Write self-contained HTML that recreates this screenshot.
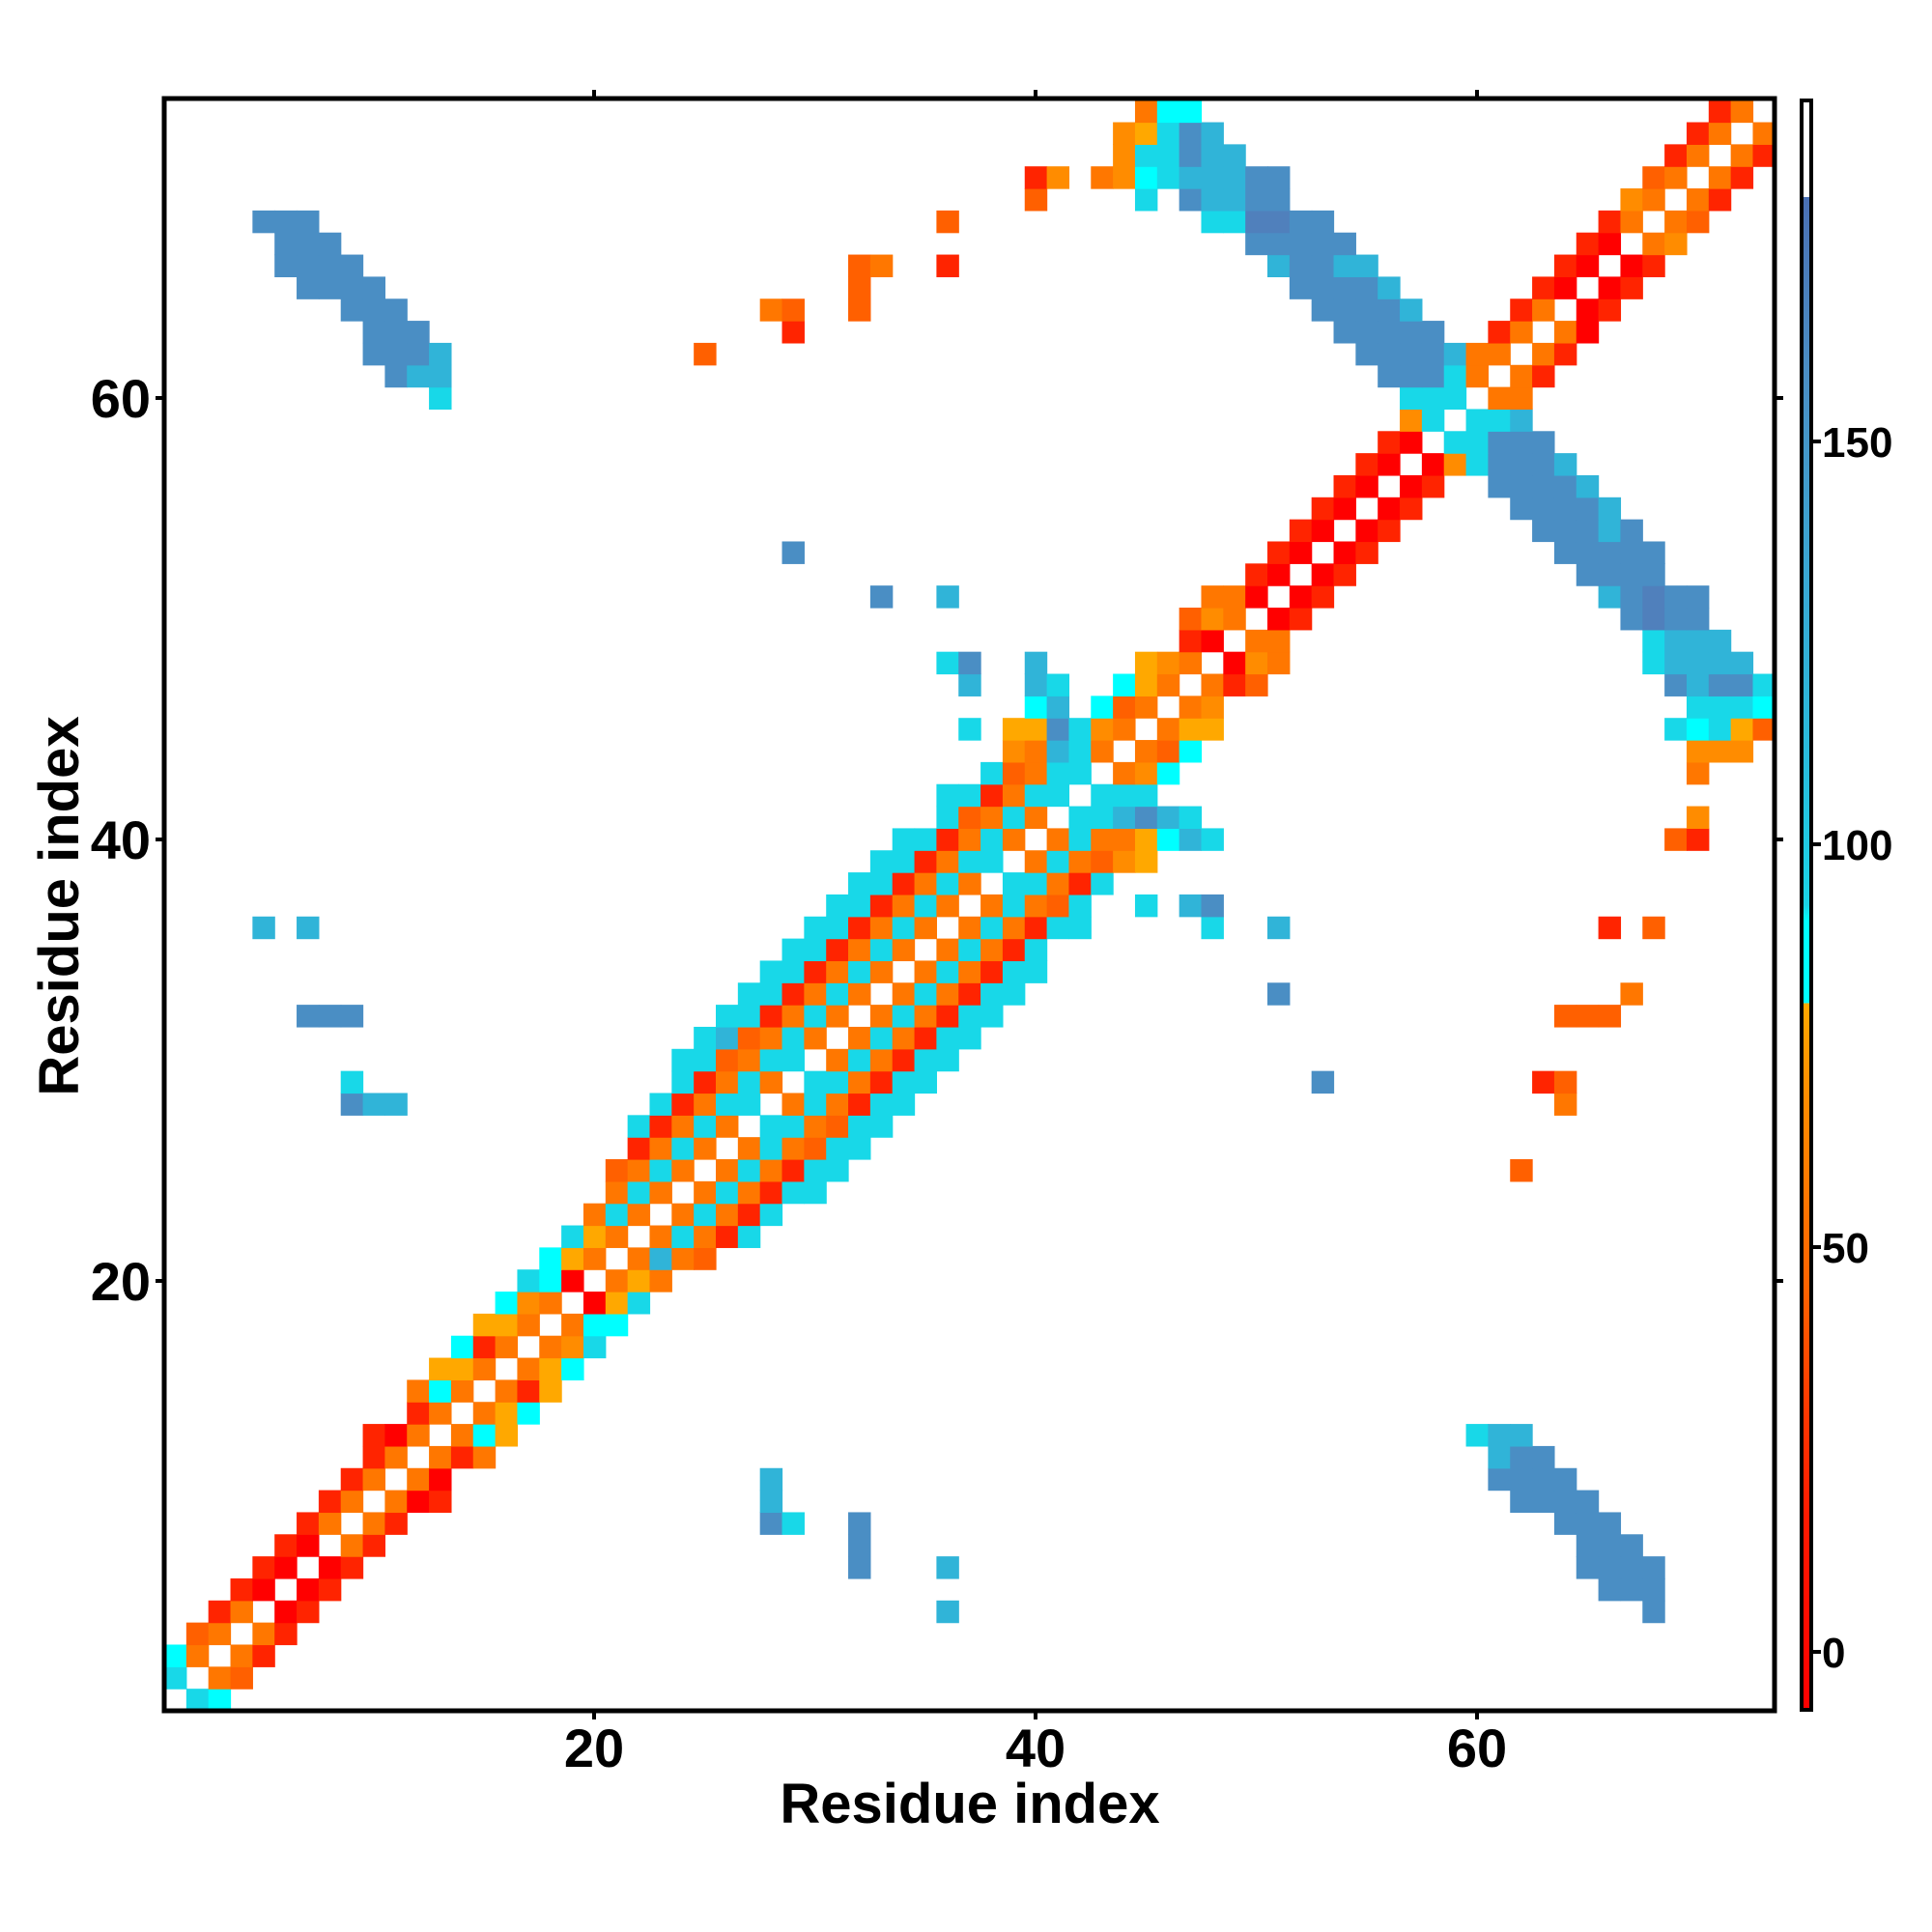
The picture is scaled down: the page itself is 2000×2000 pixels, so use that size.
<!DOCTYPE html>
<html><head><meta charset="utf-8">
<style>
html,body{margin:0;padding:0;background:#fff;width:2000px;height:2000px;overflow:hidden}
svg text{font-family:"Liberation Sans",Arial,sans-serif;font-weight:bold;fill:#000}
</style></head>
<body>
<svg id="s" width="2000" height="2000" viewBox="0 0 2000 2000" xmlns="http://www.w3.org/2000/svg">
<defs>
<linearGradient id="cb" x1="0" y1="0" x2="0" y2="1">
<stop offset="0" stop-color="#ffffff"/><stop offset="0.06" stop-color="#ffffff"/>
<stop offset="0.06" stop-color="#4a70b4"/><stop offset="0.17" stop-color="#4a8ec4"/>
<stop offset="0.29" stop-color="#3aa6d2"/><stop offset="0.41" stop-color="#28bcdc"/>
<stop offset="0.50" stop-color="#1ad4e6"/><stop offset="0.51" stop-color="#00ffff"/>
<stop offset="0.561" stop-color="#00ffff"/><stop offset="0.561" stop-color="#ffa800"/>
<stop offset="0.62" stop-color="#ff8c00"/><stop offset="0.68" stop-color="#ff7700"/>
<stop offset="0.74" stop-color="#ff6200"/><stop offset="0.81" stop-color="#ff3a00"/>
<stop offset="0.88" stop-color="#ff1a00"/><stop offset="1" stop-color="#ff0000"/>
</linearGradient>
</defs>
<g id="cells"></g>
<rect x="170" y="102" width="1667" height="1669" fill="none" stroke="#000" stroke-width="5"/>
<g stroke="#000" stroke-width="4">
<line x1="161" y1="412" x2="170" y2="412"/><line x1="161" y1="869" x2="170" y2="869"/><line x1="161" y1="1326" x2="170" y2="1326"/>
<line x1="1837" y1="412" x2="1846" y2="412"/><line x1="1837" y1="869" x2="1846" y2="869"/><line x1="1837" y1="1326" x2="1846" y2="1326"/>
<line x1="615" y1="93" x2="615" y2="102"/><line x1="1072" y1="93" x2="1072" y2="102"/><line x1="1529" y1="93" x2="1529" y2="102"/>
<line x1="615" y1="1771" x2="615" y2="1780"/><line x1="1072" y1="1771" x2="1072" y2="1780"/><line x1="1529" y1="1771" x2="1529" y2="1780"/>
<line x1="1877" y1="457" x2="1885" y2="457"/><line x1="1877" y1="874" x2="1885" y2="874"/><line x1="1877" y1="1291" x2="1885" y2="1291"/><line x1="1877" y1="1710" x2="1885" y2="1710"/>
</g>
<rect x="1865" y="104" width="10" height="1666" fill="url(#cb)" stroke="#000" stroke-width="4"/>
<g font-size="56" text-anchor="end">
<text x="156" y="432">60</text><text x="156" y="889">40</text><text x="156" y="1346">20</text>
</g>
<g font-size="56" text-anchor="middle">
<text x="615" y="1829">20</text><text x="1072" y="1829">40</text><text x="1529" y="1829">60</text>
</g>
<text x="1004" y="1887" font-size="58" text-anchor="middle">Residue index</text>
<text transform="translate(81,938) rotate(-90)" font-size="58" text-anchor="middle">Residue index</text>
<g font-size="44">
<text x="1886" y="473">150</text><text x="1886" y="890">100</text><text x="1886" y="1307">50</text><text x="1886" y="1726">0</text>
</g>
</svg>
<script>
var col={R:"#ff0000",Q:"#ff2400",O:"#ff6000",P:"#ff7700",N:"#ff8c00",A:"#ffa800",C:"#00ffff",D:"#18d8e8",S:"#30b4d8",B:"#4a8ec4",V:"#5080bc"};
var rows={
73:"45P 46C 47C 71Q 72P",
72:"44N 45A 46D 47B 48S 70Q 71P 73P",
71:"44N 45D 46D 47B 48S 49S 69Q 70P 72P 73Q",
70:"40Q 41N 43P 44N 45C 46D 47S 48S 49S 50B 51B 68O 69P 71P 72Q",
69:"40O 45D 47B 48S 49S 50B 51B 67N 68P 70P 71Q",
68:"5-7B 36O 48D 49D 50V 51V 52B 53B 66Q 67P 69P 70O",
67:"6-8B 50-54B 65Q 66R 68P 69N",
66:"6-9B 32O 33P 36Q 51S 52B 53B 54S 55S 64Q 65R 67R 68Q",
65:"7-10B 32O 52-55B 56S 63Q 64R 66R 67Q",
64:"9-11B 28P 29O 32O 53-56B 57S 62Q 63P 65R 66Q",
63:"10-12B 29Q 54-58B 61Q 62P 64P 65R",
62:"10-12B 13S 25O 55-58B 59S 60P 61P 63P 64Q",
61:"11B 12S 13S 56-58B 59D 60P 62P 63Q",
60:"13D 57D 58D 59D 61P 62P",
59:"57N 58D 60D 61D 62S",
58:"56Q 57R 59D 60D 61-63B",
57:"55Q 56R 58R 59N 60D 61-63B 64S",
56:"54Q 55R 57R 58Q 61-64B 65S",
55:"53Q 54R 56R 57Q 62-65B 66S",
54:"52Q 53R 55R 56Q 63-65B 66S 67B",
53:"29B 51Q 52R 54R 55Q 64-68B",
52:"50Q 51R 53R 54Q 65-68B",
51:"33B 36S 48P 49P 50R 52R 53Q 66S 67B 68V 69B 70B",
50:"47O 48N 49P 51R 52Q 67B 68V 69B 70B",
49:"47Q 48R 50P 51P 68D 69-71S",
48:"36D 37B 40S 45A 46N 47P 49R 50N 51P 68D 69-72S",
47:"37S 40S 41D 44C 45A 46P 48P 49Q 50O 69B 70S 71B 72B 73D",
46:"40C 41S 43C 44O 45P 47P 48N 70-72D 73C",
45:"37D 39A 40A 41B 42D 43N 44P 46P 47A 48A 69D 70C 71D 72A 73O",
44:"39N 40P 41S 42D 43P 45P 46O 47C 70-72N",
43:"38D 39O 40P 41D 42D 44P 45N 46C 70P",
42:"36D 37D 38Q 39P 40D 41D 43-45D",
41:"36D 37O 38P 39D 40P 42D 43D 44S 45B 46S 47D 70N",
40:"34D 35D 36Q 37P 38D 39P 41P 42D 43P 44P 45A 46C 47S 48D 69O 70Q",
39:"33D 34D 35Q 36P 37D 38D 40P 41D 42P 43O 44N 45A",
38:"32D 33D 34Q 35P 36D 37P 39D 40D 41P 42Q 43D",
37:"31D 32D 33Q 34P 35D 36P 38P 39D 40P 41O 42D 45D 47S 48B",
36:"5S 7S 30D 31D 32Q 33P 34D 35P 37P 38D 39P 40Q 41D 42D 48D 51S 66Q 68O",
35:"29D 30D 31Q 32P 33D 34P 36P 37D 38P 39Q 40D",
34:"28D 29D 30Q 31P 32D 33P 35P 36D 37P 38Q 39D 40D",
33:"27D 28D 29Q 30P 31D 32P 34P 35D 36P 37Q 38D 39D 51B 67P",
32:"7-9B 26D 27D 28Q 29P 30D 31P 33P 34D 35P 36Q 37D 38D 64-66O",
31:"25D 26S 27O 28P 29D 30P 32P 33D 34P 35Q 36D 37D",
30:"24D 25D 26O 27P 28D 29D 31P 32D 33P 34Q 35D 36D",
29:"9D 24D 25Q 26P 27D 28P 30D 31D 32P 33Q 34D 35D 53B 63Q 64O",
28:"9B 10S 11S 23D 24Q 25P 26D 27D 29P 30D 31P 32Q 33D 34D 64P",
27:"22D 23Q 24P 25D 26P 28D 29D 30P 31O 32D 33D",
26:"22Q 23P 24D 25P 27P 28D 29P 30O 31D 32D",
25:"21O 22P 23D 24P 26P 27D 28P 29Q 30D 31D 62O",
24:"21P 22D 23P 25P 26D 27P 28Q 29D 30D",
23:"20P 21D 22P 24P 25D 26P 27Q 28D",
22:"19D 20A 21P 23P 24D 25P 26Q 27D",
21:"18C 19A 20P 22P 23S 24P 25O",
20:"17D 18C 19R 21P 22A 23P",
19:"16C 17N 18P 20R 21A 22D",
18:"15A 16A 17P 19P 20C 21C",
17:"14C 15Q 16P 18P 19N 20D",
16:"13A 14A 15P 17P 18A 19C",
15:"12P 13C 14P 16P 17Q 18A",
14:"12Q 13P 15P 16A 17C",
13:"10Q 11R 12P 14P 15C 16A 60D 61S 62S",
12:"10Q 11P 13P 14Q 15P 61S 62B 63B",
11:"9Q 10P 12P 13R 28S 61-64B",
10:"8Q 9P 11P 12R 13Q 28S 62-65B",
9:"7Q 8P 10P 11Q 28B 29D 32B 64-66B",
8:"6Q 7R 9P 10Q 32B 65-67B",
7:"5Q 6R 8R 9Q 32B 36S 65-68B",
6:"4Q 5R 7R 8Q 66-68B",
5:"3Q 4P 6R 7Q 36S 68B",
4:"2O 3P 5P 6Q",
3:"1C 2P 4P 5Q",
2:"1D 3P 4O",
1:"2D 3C"
};
var g=document.getElementById("cells"),ns="http://www.w3.org/2000/svg",w=22.84,h="";
for(var r in rows){var items=rows[r].split(" ");
 for(var k=0;k<items.length;k++){var it=items[k],m=it.match(/^(\d+)(?:-(\d+))?([A-Z])$/);if(!m)continue;
  var a=+m[1],b=m[2]?+m[2]:a,c=col[m[3]];
  for(var cc=a;cc<=b;cc++){
   h+='<rect x="'+(170+(cc-1)*w).toFixed(2)+'" y="'+(1771-r*w).toFixed(2)+'" width="'+(w+0.6).toFixed(2)+'" height="'+(w+0.6).toFixed(2)+'" fill="'+c+'"/>';
  }}}
g.innerHTML=h;
</script>
</body></html>
